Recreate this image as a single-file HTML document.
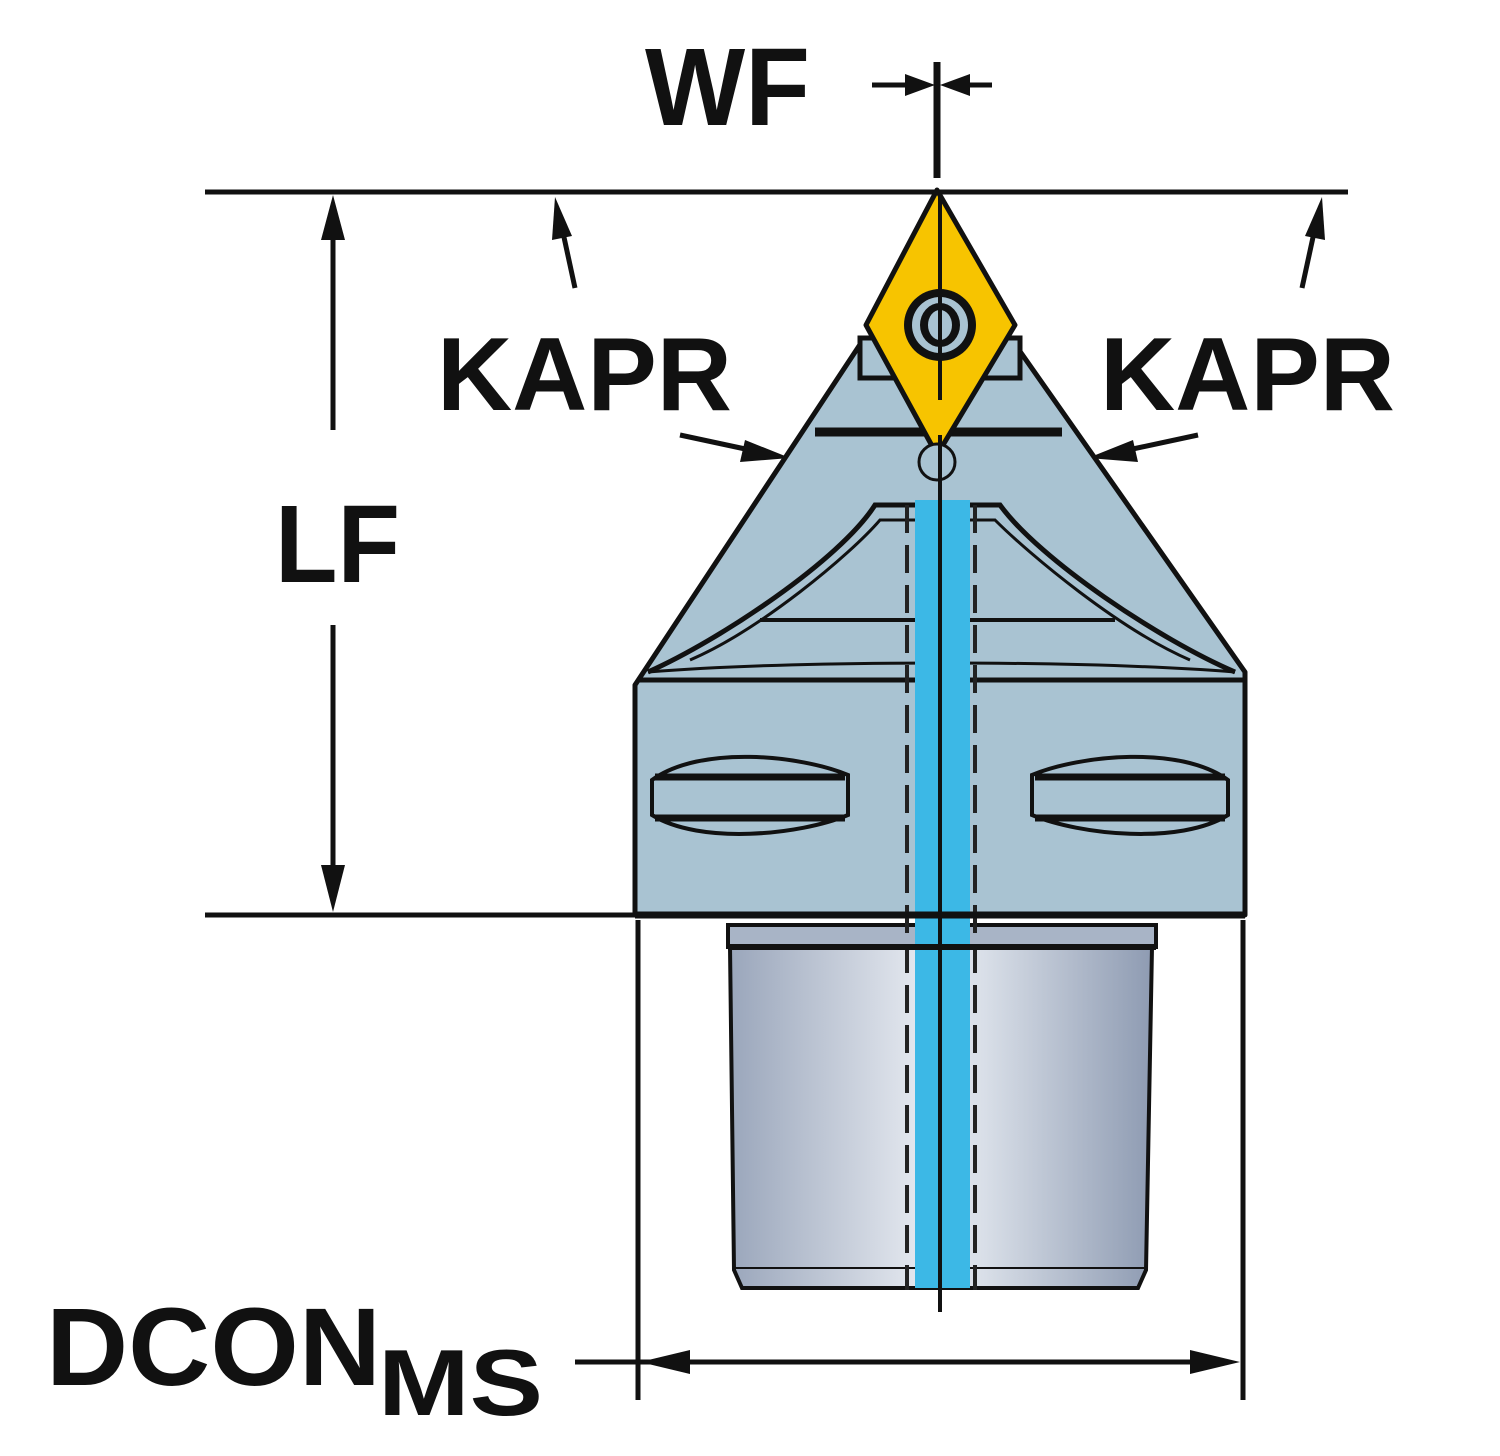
<!DOCTYPE html>
<html><head><style>body{margin:0;background:#fff}svg{display:block}</style></head><body>
<svg width="1500" height="1456" viewBox="0 0 1500 1456" xmlns="http://www.w3.org/2000/svg">
<defs>
<linearGradient id="cyl" x1="0" x2="1" y1="0" y2="0">
<stop offset="0" stop-color="#9aa6bb"/><stop offset="0.45" stop-color="#e4e8ef"/><stop offset="0.6" stop-color="#d9dfe8"/><stop offset="1" stop-color="#8e9bb2"/>
</linearGradient>
</defs>
<g stroke="#111" stroke-width="5" fill="none">
<line x1="205" y1="192" x2="1348" y2="192"/>
<line x1="205" y1="915" x2="780" y2="915"/>
<line x1="937" y1="62" x2="937" y2="178" stroke-width="7"/>
<line x1="872" y1="85" x2="915" y2="85"/>
<line x1="960" y1="85" x2="992" y2="85"/>
<line x1="333" y1="230" x2="333" y2="430"/>
<line x1="333" y1="625" x2="333" y2="875"/>
<line x1="575" y1="288" x2="562" y2="228"/>
<line x1="1302" y1="288" x2="1315" y2="228"/>
<line x1="680" y1="435" x2="750" y2="450"/>
<line x1="1198" y1="435" x2="1128" y2="450"/>
<line x1="638" y1="920" x2="638" y2="1400"/>
<line x1="1243" y1="920" x2="1243" y2="1400"/>
<line x1="575" y1="1362" x2="1200" y2="1362"/>
</g>
<g fill="#111">
<polygon points="935,85 905,74 905,96"/>
<polygon points="940,85 970,74 970,96"/>
<polygon points="333,195 321,240 345,240"/>
<polygon points="333,912 321,865 345,865"/>
<polygon points="555,197 552,240 572,236"/>
<polygon points="1322,197 1305,236 1325,240"/>
<polygon points="790,458 745,440 740,462"/>
<polygon points="1088,458 1133,440 1138,462"/>
<polygon points="640,1362 690,1350 690,1374"/>
<polygon points="1240,1362 1190,1350 1190,1374"/>
</g>
<path d="M863,340 L1012,340 L1245,672 L1245,915 L635,915 L635,685 Z" fill="#a9c3d2" stroke="#111" stroke-width="5" stroke-linejoin="round"/>
<line x1="638" y1="680" x2="1243" y2="680" stroke="#111" stroke-width="5"/>
<line x1="815" y1="432" x2="1062" y2="432" stroke="#111" stroke-width="9"/>
<path d="M648,672 C720,640 840,560 875,505 L1000,505 C1040,560 1160,640 1235,672" fill="none" stroke="#111" stroke-width="5"/>
<path d="M690,660 C760,630 850,555 880,520 L995,520 C1030,555 1120,630 1190,660" fill="none" stroke="#111" stroke-width="3"/>
<line x1="760" y1="620" x2="1115" y2="620" stroke="#111" stroke-width="4"/>
<path d="M648,672 C800,660 1080,660 1235,672" fill="none" stroke="#111" stroke-width="3"/>
<g fill="#a9c3d2" stroke="#111" stroke-width="4">
<path d="M652,780 C700,745 800,755 848,775 L848,815 C800,835 700,845 652,815 Z"/>
<path d="M1228,780 C1180,745 1080,755 1032,775 L1032,815 C1080,835 1180,845 1228,815 Z"/>
</g>
<g stroke="#111" stroke-width="7"><line x1="655" y1="777" x2="845" y2="777"/><line x1="655" y1="818" x2="845" y2="818"/><line x1="1035" y1="777" x2="1225" y2="777"/><line x1="1035" y1="818" x2="1225" y2="818"/></g>
<rect x="728" y="925" width="428" height="22" fill="#a8b4c6" stroke="#111" stroke-width="4"/>
<path d="M730,947 L1152,947 L1146,1270 L1138,1288 L742,1288 L734,1270 Z" fill="url(#cyl)" stroke="#111" stroke-width="4"/>
<line x1="734" y1="1268" x2="1146" y2="1268" stroke="#111" stroke-width="2"/>
<rect x="860" y="338" width="160" height="40" fill="#a9c3d2" stroke="#111" stroke-width="5"/>
<rect x="915" y="500" width="55" height="788" fill="#3cb8e6"/>
<g stroke="#222" stroke-width="4" stroke-dasharray="28,12"><line x1="907" y1="505" x2="907" y2="1290"/><line x1="975" y1="505" x2="975" y2="1290"/></g>
<polygon points="937,190 866,325 937,455 1015,325" fill="#f7c400" stroke="#111" stroke-width="5" stroke-linejoin="round"/>
<circle cx="937" cy="462" r="18" fill="#a9c3d2" stroke="#111" stroke-width="3"/>
<ellipse cx="940" cy="325" rx="36" ry="36" fill="#111"/>
<ellipse cx="940" cy="325" rx="28" ry="28" fill="#a9c3d2"/>
<ellipse cx="940" cy="325" rx="20" ry="22" fill="#111"/>
<ellipse cx="940" cy="325" rx="12" ry="15" fill="#a9c3d2"/>
<line x1="940" y1="190" x2="940" y2="400" stroke="#111" stroke-width="4"/>
<line x1="940" y1="435" x2="940" y2="1312" stroke="#111" stroke-width="4"/>
<line x1="635" y1="915" x2="1245" y2="915" stroke="#111" stroke-width="7"/>
<line x1="728" y1="947" x2="1156" y2="947" stroke="#111" stroke-width="6"/>
<g font-family="Liberation Sans, sans-serif" fill="#111" font-weight="bold">
<text x="645" y="125" font-size="110" textLength="165" lengthAdjust="spacingAndGlyphs">WF</text>
<text x="275" y="582" font-size="110" textLength="125" lengthAdjust="spacingAndGlyphs">LF</text>
<text x="437" y="410" font-size="104" textLength="295" lengthAdjust="spacingAndGlyphs">KAPR</text>
<text x="1100" y="410" font-size="104" textLength="295" lengthAdjust="spacingAndGlyphs">KAPR</text>
<text x="46" y="1385" font-size="110" textLength="335" lengthAdjust="spacingAndGlyphs">DCON</text>
<text x="378" y="1415" font-size="94" textLength="165" lengthAdjust="spacingAndGlyphs">MS</text>
</g>
</svg>
</body></html>
